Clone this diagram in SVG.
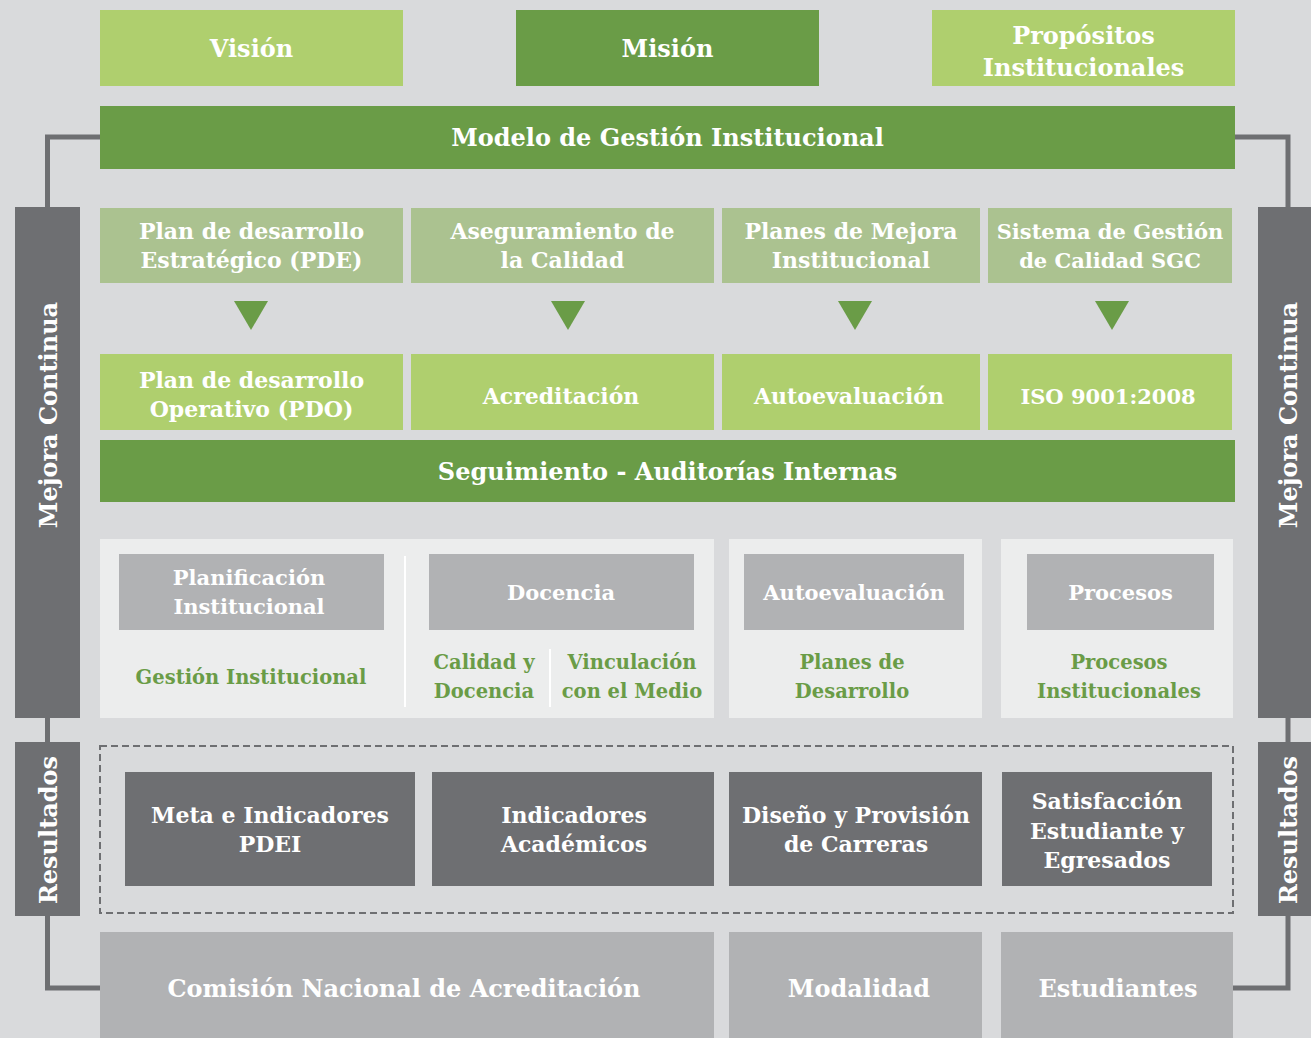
<svg xmlns="http://www.w3.org/2000/svg" width="1311" height="1038" viewBox="0 0 1311 1038">
<defs>
<style>
.t{font-family:"DejaVu Serif","Liberation Serif",serif;font-weight:bold;fill:#ffffff;text-anchor:middle}
.g{font-family:"DejaVu Serif","Liberation Serif",serif;font-weight:bold;fill:#6A9C47;text-anchor:middle;font-size:19.5px}
.lg{fill:#AFCF6E}
.dg{fill:#6A9C47}
.mg{fill:#ABC290}
.pn{fill:#ECEDED}
.gr{fill:#B1B2B4}
.dk{fill:#6E6F72}
.con{fill:none;stroke:#6E6F72;stroke-width:5}
.s24{font-size:24px}
.s22{font-size:22px}
.s21{font-size:21px}
</style>
</defs>
<rect width="1311" height="1038" fill="#D9DADC"/>

<g id="connectors">
<polyline class="con" points="100,137 47.5,137 47.5,207"/>
<line class="con" x1="47.5" y1="718" x2="47.5" y2="742"/>
<polyline class="con" points="47.5,916 47.5,988 100,988"/>
<polyline class="con" points="1235,137 1288,137 1288,207"/>
<line class="con" x1="1288" y1="718" x2="1288" y2="742"/>
<polyline class="con" points="1288,916 1288,988 1233,988"/>
<polygon class="dg" points="234,301 268,301 251,330"/>
<polygon class="dg" points="551,301 585,301 568,330"/>
<polygon class="dg" points="838,301 872,301 855,330"/>
<polygon class="dg" points="1095,301 1129,301 1112,330"/>
</g>

<g id="vision"><rect class="lg" x="100" y="10" width="303" height="76"/><text class="t s24" x="251.5" y="57">Visión</text></g>
<g id="mision"><rect class="dg" x="516" y="10" width="303" height="76"/><text class="t s24" x="667.5" y="57">Misión</text></g>
<g id="propositos"><rect class="lg" x="932" y="10" width="303" height="76"/><text class="t s24" x="1083.5" y="44">Propósitos</text><text class="t s24" x="1083.5" y="76">Institucionales</text></g>

<g id="modelo"><rect class="dg" x="100" y="106" width="1135" height="63"/><text class="t s24" x="667.5" y="146">Modelo de Gestión Institucional</text></g>

<g id="mejora-izq"><rect class="dk" x="15" y="207" width="65" height="511"/><text class="t s24" transform="translate(57,415) rotate(-90)">Mejora Continua</text></g>
<g id="mejora-der"><rect class="dk" x="1258" y="207" width="53" height="511"/><text class="t s24" transform="translate(1297,415) rotate(-90)">Mejora Continua</text></g>
<g id="resultados-izq"><rect class="dk" x="15" y="742" width="65" height="174"/><text class="t s24" transform="translate(57,830) rotate(-90)">Resultados</text></g>
<g id="resultados-der"><rect class="dk" x="1258" y="742" width="53" height="174"/><text class="t s24" transform="translate(1297,830) rotate(-90)">Resultados</text></g>

<g id="pde"><rect class="mg" x="100" y="208" width="303" height="75"/><text class="t s22" x="251.5" y="239">Plan de desarrollo</text><text class="t s22" x="251.5" y="268">Estratégico (PDE)</text></g>
<g id="aseguramiento"><rect class="mg" x="411" y="208" width="303" height="75"/><text class="t s22" x="562.5" y="239">Aseguramiento de</text><text class="t s22" x="562.5" y="268">la Calidad</text></g>
<g id="planes-mejora"><rect class="mg" x="722" y="208" width="258" height="75"/><text class="t s22" x="851" y="239">Planes de Mejora</text><text class="t s22" x="851" y="268">Institucional</text></g>
<g id="sgc"><rect class="mg" x="988" y="208" width="244" height="75"/><text class="t s21" x="1110" y="239">Sistema de Gestión</text><text class="t s21" x="1110" y="268">de Calidad SGC</text></g>

<g id="pdo"><rect class="lg" x="100" y="354" width="303" height="76"/><text class="t s22" x="251.5" y="388">Plan de desarrollo</text><text class="t s22" x="251.5" y="417">Operativo (PDO)</text></g>
<g id="acreditacion"><rect class="lg" x="411" y="354" width="303" height="76"/><text class="t s22" x="561" y="404">Acreditación</text></g>
<g id="autoevaluacion"><rect class="lg" x="722" y="354" width="258" height="76"/><text class="t s22" x="849" y="404">Autoevaluación</text></g>
<g id="iso"><rect class="lg" x="988" y="354" width="244" height="76"/><text class="t s21" x="1108" y="404">ISO 9001:2008</text></g>

<g id="seguimiento"><rect class="dg" x="100" y="440" width="1135" height="62"/><text class="t s24" x="667.5" y="480">Seguimiento - Auditorías Internas</text></g>

<g id="panel-1">
<rect class="pn" x="100" y="539" width="614" height="179"/>
<line x1="405" y1="556" x2="405" y2="707" stroke="#ffffff" stroke-width="2"/>
<line x1="550" y1="649" x2="550" y2="707" stroke="#ffffff" stroke-width="2"/>
</g>
<g id="planificacion"><rect class="gr" x="119" y="554" width="265" height="76"/><text class="t s21" x="249" y="585">Planificación</text><text class="t s21" x="249" y="614">Institucional</text></g>
<g id="gestion"><text class="g" x="251" y="684">Gestión Institucional</text></g>
<g id="docencia"><rect class="gr" x="429" y="554" width="265" height="76"/><text class="t s21" x="561" y="600">Docencia</text></g>
<g id="calidad-docencia"><text class="g" x="484" y="669">Calidad y</text><text class="g" x="484" y="698">Docencia</text></g>
<g id="vinculacion"><text class="g" x="632" y="669">Vinculación</text><text class="g" x="632" y="698">con el Medio</text></g>

<g id="panel-2"><rect class="pn" x="729" y="539" width="253" height="179"/></g>
<g id="autoevaluacion-2"><rect class="gr" x="744" y="554" width="220" height="76"/><text class="t s21" x="854" y="600">Autoevaluación</text></g>
<g id="planes-desarrollo"><text class="g" x="852" y="669">Planes de</text><text class="g" x="852" y="698">Desarrollo</text></g>

<g id="panel-3"><rect class="pn" x="1001" y="539" width="232" height="179"/></g>
<g id="procesos"><rect class="gr" x="1027" y="554" width="187" height="76"/><text class="t s21" x="1120.5" y="600">Procesos</text></g>
<g id="procesos-inst"><text class="g" x="1119" y="669">Procesos</text><text class="g" x="1119" y="698">Institucionales</text></g>

<g id="resultados-grupo"><rect x="100" y="746" width="1133" height="167" fill="none" stroke="#6E6F72" stroke-width="2" stroke-dasharray="7,4"/></g>
<g id="meta"><rect class="dk" x="125" y="772" width="290" height="114"/><text class="t s22" x="270" y="823">Meta e Indicadores</text><text class="t s22" x="270" y="852">PDEI</text></g>
<g id="ind-academicos"><rect class="dk" x="432" y="772" width="282" height="114"/><text class="t s22" x="574" y="823">Indicadores</text><text class="t s22" x="574" y="852">Académicos</text></g>
<g id="diseno"><rect class="dk" x="729" y="772" width="253" height="114"/><text class="t s22" x="856" y="823">Diseño y Provisión</text><text class="t s22" x="856" y="852">de Carreras</text></g>
<g id="satisfaccion"><rect class="dk" x="1002" y="772" width="210" height="114"/><text class="t s22" x="1107" y="809">Satisfacción</text><text class="t s22" x="1107" y="839">Estudiante y</text><text class="t s22" x="1107" y="868">Egresados</text></g>

<g id="cna"><rect class="gr" x="100" y="932" width="614" height="106"/><text class="t s24" x="404" y="997">Comisión Nacional de Acreditación</text></g>
<g id="modalidad"><rect class="gr" x="729" y="932" width="253" height="106"/><text class="t s24" x="859" y="997">Modalidad</text></g>
<g id="estudiantes"><rect class="gr" x="1001" y="932" width="232" height="106"/><text class="t s24" x="1118" y="997">Estudiantes</text></g>
</svg>
